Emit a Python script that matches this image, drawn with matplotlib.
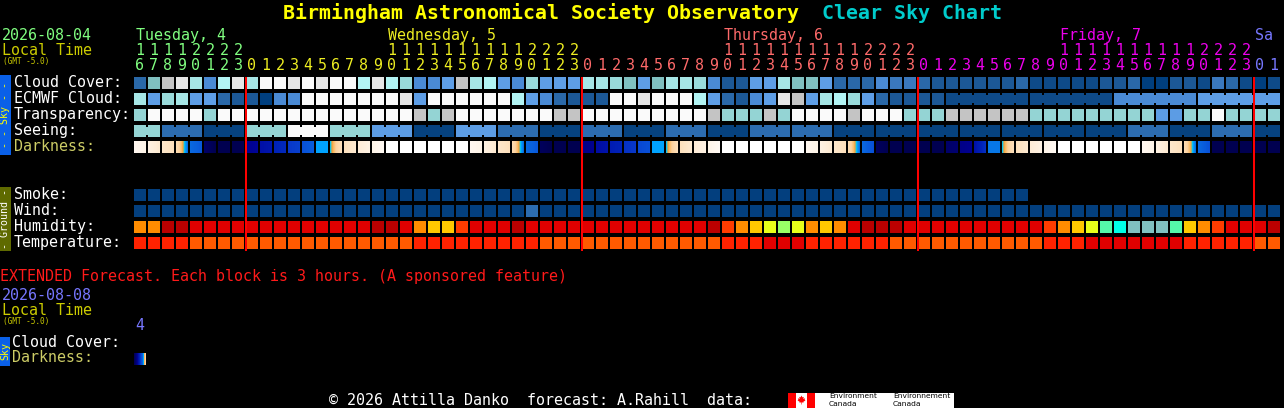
import matplotlib
matplotlib.use("Agg")
import matplotlib.pyplot as plt
from matplotlib.patches import Rectangle, Polygon
from matplotlib.colors import LinearSegmentedColormap
import numpy as np

plt.rcParams['font.family'] = ['DejaVu Sans Mono']

# ---------------- data ----------------
DAYS = ["Tuesday, 4", "Wednesday, 5", "Thursday, 6", "Friday, 7", "Sa"]
DAY_HOURS = [
    [16, 17, 18, 19, 20, 21, 22, 23],
    [0, 1, 2, 3, 4, 5, 6, 7, 8, 9, 10, 11, 12, 13, 14, 15, 16, 17, 18, 19, 20, 21, 22, 23],
    [0, 1, 2, 3, 4, 5, 6, 7, 8, 9, 10, 11, 12, 13, 14, 15, 16, 17, 18, 19, 20, 21, 22, 23],
    [0, 1, 2, 3, 4, 5, 6, 7, 8, 9, 10, 11, 12, 13, 14, 15, 16, 17, 18, 19, 20, 21, 22, 23],
    [0, 1],
]
DAY_COLORS = ["#80ff80", "#eeee22", "#ff6a6a", "#ee00ee", "#7777ff"]

# cloud cover levels (index into CLOUD_COLORS, 0 = clear ... 13 = overcast)
CLOUD_COVER = [3, 7, 11, 12, 9, 5, 10, 12, 9, 13, 13, 12, 13, 12, 13, 13, 10, 12, 10, 8,
               5, 5, 6, 11, 9, 10, 6, 5, 8, 6, 6, 6, 9, 9, 8, 7, 6, 7, 9, 9,
               8, 5, 2, 2, 6, 6, 9, 7, 7, 6, 3, 3, 3, 5, 4, 4, 3, 2, 2, 2,
               2, 2, 2, 3, 1, 1, 1, 1, 1, 2, 2, 3, 0, 0, 2, 2, 1, 4, 3, 1,
               0, 1]
ECMWF_CLOUD = [9, 6, 8, 9, 6, 6, 3, 2, 2, 0, 5, 5, 13, 13, 13, 13, 13, 13, 13, 12,
               6, 13, 13, 13, 13, 13, 13, 10, 6, 5, 3, 2, 2, 2, 13, 13, 12, 13, 13, 13,
               10, 6, 3, 2, 5, 6, 12, 11, 6, 9, 10, 8, 6, 3, 2, 2, 2, 2, 1, 1,
               1, 1, 1, 1, 1, 1, 1, 1, 1, 1, 5, 5, 5, 5, 5, 5, 6, 6, 6, 6,
               6, 6]
ECMWF_BLOCKS = [(58, 64), (64, 70), (70, 76), (76, 82)]
CLOUD_COLORS = ['#003f7f', '#0e4a88', '#1c5896', '#2a68a8', '#3a78be', '#4a8ad4', '#5e9ee6',
                '#80c0c0', '#99dada', '#a6e6e6', '#b2f4f4', '#c4c4c4', '#e6e6e6', '#fafafa']

# transparency levels (0 transparent ... 5 too cloudy)
TRANSPARENCY = [3, 5, 5, 5, 5, 3, 5, 5, 5, 5, 5, 5, 5, 5, 5, 5, 5, 5, 5, 5,
                4, 3, 4, 5, 5, 5, 5, 5, 5, 5, 4, 4, 5, 5, 5, 5, 5, 5, 5, 5,
                5, 4, 3, 3, 3, 4, 3, 5, 5, 5, 5, 4, 5, 5, 5, 3, 3, 3, 4, 4,
                4, 4, 4, 4, 3, 3, 3, 3, 3, 3, 3, 3, 3, 2, 2, 3, 3, 5, 3, 3,
                3, 3]
TRANSP_COLORS = ['#003f7f', '#2c6cb0', '#5c9ce4', '#94d4d4', '#c4c4c4', '#fafafa']

# seeing (1 bad ... 5 excellent)
SEEING = [2, 2, 4, 4, 4, 5, 5, 5, 2, 2, 2, 1, 1, 1, 2, 2, 2, 3, 3, 3,
          5, 5, 5, 3, 3, 3, 4, 4, 4, 5, 5, 5, 4, 4, 4, 5, 5, 5, 4, 4,
          4, 5, 5, 5, 4, 4, 4, 4, 4, 4, 5, 5, 5, 5, 5, 5, 5, 5, 5, 5,
          5, 5, 5, 5, 5, 5, 5, 5, 5, 5, 5, 4, 4, 4, 5, 5, 5, 4, 4, 4,
          5, 5]
SEEING_COLORS = {1: '#fafafa', 2: '#94d4d4', 3: '#5c9ce4', 4: '#2c6cb0', 5: '#06427f'}

# darkness (0 = daylight ... 100 = darkest) at start and end of each hour
DARK_START = [8, 14, 24, 32, 52, 92, 100, 100, 82, 76, 70, 64, 58, 48, 47, 30, 20, 12, 0, 0,
              0, 0, 0, 0, 8, 14, 24, 32, 52, 96, 100, 100, 84, 77, 72, 66, 60, 48, 47, 30,
              20, 12, 0, 0, 0, 0, 0, 0, 8, 14, 24, 32, 52, 95, 100, 100, 100, 100, 92, 84,
              76, 51, 47, 30, 20, 12, 0, 0, 0, 0, 0, 0, 8, 14, 24, 32, 52, 100, 100, 100,
              100, 100]
DARK_END = [12, 22, 30, 52, 56, 100, 100, 100, 80, 74, 68, 62, 55, 48, 30, 22, 14, 6, 0, 0,
            0, 0, 0, 0, 12, 22, 30, 52, 56, 100, 100, 100, 82, 75, 70, 64, 58, 48, 30, 22,
            14, 6, 0, 0, 0, 0, 0, 0, 12, 22, 30, 52, 58, 100, 100, 100, 100, 100, 90, 82,
            66, 51, 30, 22, 14, 6, 0, 0, 0, 0, 0, 0, 12, 22, 30, 52, 58, 100, 100, 100,
            100, 100]
DARK_STOPS = [(0, '#ffffff'), (10, '#fff6ec'), (20, '#feecd6'), (30, '#fde0bc'), (38, '#fcd29e'),
              (42, '#f9b860'), (44, '#f0a040'), (45.5, '#40c8c0'), (46.5, '#00c0f8'),
              (48, '#00a0ff'), (52, '#0a6ae0'), (58, '#0850d8'), (64, '#0838c8'),
              (70, '#0022b8'), (76, '#0010a8'), (82, '#000090'), (90, '#000070'), (100, '#000050')]

SMOKE = [0, 0, 0, 0, 0, 0, 0, 0, 0, 0, 0, 0, 0, 0, 0, 0, 0, 0, 0, 0,
         0, 0, 0, 0, 0, 0, 0, 0, 0, 0, 0, 0, 0, 0, 0, 0, 0, 0, 0, 0,
         0, 0, 0, 0, 0, 0, 0, 0, 0, 0, 0, 0, 0, 0, 0, 0, 0, 0, 0, 0,
         0, 0, 0, 0]
SMOKE_COLORS = {0: '#033f7e'}
WIND = [0, 0, 0, 0, 0, 0, 0, 0, 0, 0, 0, 0, 0, 0, 0, 0, 0, 0, 0, 0,
        0, 0, 0, 0, 0, 0, 0, 0, 1, 0, 0, 0, 0, 0, 0, 0, 0, 0, 0, 0,
        0, 0, 0, 0, 0, 0, 0, 0, 0, 0, 0, 0, 0, 0, 0, 0, 0, 0, 0, 0,
        0, 0, 0, 0, 0, 0, 0, 0, 0, 0, 0, 0, 0, 0, 0, 0, 0, 0, 0, 0,
        0, 0]
WIND_COLORS = {0: '#033f7e', 1: '#2c6cb0'}
HUMIDITY = [85, 85, 100, 100, 95, 95, 95, 95, 95, 95, 95, 95, 95, 95, 95, 95, 95, 100, 100, 95,
            85, 80, 80, 90, 95, 95, 95, 100, 95, 95, 95, 95, 95, 95, 95, 95, 95, 95, 95, 95,
            95, 100, 90, 85, 80, 75, 70, 75, 85, 80, 85, 95, 100, 100, 100, 95, 95, 95, 95, 95,
            95, 95, 95, 95, 95, 90, 85, 80, 75, 65, 60, 55, 55, 55, 65, 80, 85, 90, 95, 95,
            95, 100]
HUMID_COLORS = {100: '#bb0000', 95: '#e00000', 90: '#ff3c00', 85: '#ff8c00', 80: '#ffc800',
                75: '#e8ff1a', 70: '#99ff66', 65: '#55f8aa', 60: '#00ffe6', 55: '#80c0c0'}
TEMPERATURE = [82, 82, 82, 82, 77, 77, 77, 77, 77, 77, 77, 77, 77, 77, 77, 77, 77, 77, 77, 77,
               82, 82, 82, 82, 82, 82, 82, 82, 82, 77, 77, 77, 77, 77, 77, 77, 77, 77, 77, 77,
               77, 77, 82, 82, 82, 88, 88, 88, 82, 82, 82, 82, 82, 82, 77, 77, 77, 77, 77, 77,
               77, 77, 77, 77, 77, 82, 82, 82, 88, 88, 88, 88, 88, 88, 88, 82, 82, 82, 82, 82,
               77, 77]
TEMP_COLORS = {77: '#ff5a00', 82: '#ff2200', 88: '#e00000'}

SKY_LABELS = ["Cloud Cover:", "ECMWF Cloud:", "Transparency:", "Seeing:", "Darkness:"]
GROUND_LABELS = ["Smoke:", "Wind:", "Humidity:", "Temperature:"]

EXT_DATE = "2026-08-08"
EXT_HOURS = [4]
EXT_DARK_START = [100]
EXT_DARK_END = [35]

# ---------------- layout ----------------
W, H = 1284, 408
X0, PITCH, CELL = 134, 14, 12
SKY_TOP, GROUND_TOP, ROW = 77, 189, 16
FS = 10.8
WHITE = '#ffffff'

fig = plt.figure(figsize=(W / 100, H / 100), dpi=100, facecolor='black')
ax = fig.add_axes([0, 0, 1, 1])
ax.set_facecolor('black')
ax.axis('off')

hours = [h for day in DAY_HOURS for h in day]
day_of_col = [d for d, day in enumerate(DAY_HOURS) for _ in day]
n = len(hours)
xs = X0 + PITCH * np.arange(n)


def cell_row(values, palette, top):
    vals = list(values)
    cols = [palette[v] for v in vals]
    ax.bar(xs[:len(vals)], CELL, bottom=top, width=CELL, align='edge', color=cols, lw=0)


def bridges(values, palette, top, groups):
    for (a, b) in groups:
        for i in range(a, b - 1):
            ax.bar(xs[i] + CELL, CELL - 4, bottom=top + 2, width=PITCH - CELL, align='edge',
                   color=palette[values[i]], lw=0)


# title
ax.text(283, 19, "Birmingham Astronomical Society Observatory", color='#ffff00',
        fontsize=14.35, fontweight='bold', va='baseline', ha='left')
ax.text(822, 19, "Clear Sky Chart", color='#00cccc', fontsize=14.35, fontweight='bold',
        va='baseline', ha='left')

# header
ax.text(2, 40, "2026-08-04", color='#80ff80', fontsize=FS, va='baseline')
ax.text(2, 55, "Local Time", color='#cccc00', fontsize=FS, va='baseline')
ax.text(3, 64, "(GMT -5.0)", color='#cccc00', fontsize=5.6, va='baseline')

for d, name in enumerate(DAYS):
    cols_d = [i for i in range(n) if day_of_col[i] == d]
    first = next((i for i in cols_d if hours[i] >= 10), cols_d[0])
    ax.text(xs[first] + 1.5, 40, name, color=DAY_COLORS[d], fontsize=FS, va='baseline')

for i, h in enumerate(hours):
    c = DAY_COLORS[day_of_col[i]]
    if h >= 10:
        ax.text(xs[i] + CELL / 2, 55, str(h // 10), color=c, fontsize=FS, va='baseline', ha='center')
    ax.text(xs[i] + CELL / 2, 70, str(h % 10), color=c, fontsize=FS, va='baseline', ha='center')

# sky rows
for k, lab in enumerate(SKY_LABELS):
    ax.text(14, SKY_TOP + ROW * k + 10, lab, color='#cccc66' if lab == "Darkness:" else WHITE,
            fontsize=FS, va='baseline')
cell_row(CLOUD_COVER, CLOUD_COLORS, SKY_TOP)
cell_row(ECMWF_CLOUD, CLOUD_COLORS, SKY_TOP + ROW)
bridges(ECMWF_CLOUD, CLOUD_COLORS, SKY_TOP + ROW, ECMWF_BLOCKS)
cell_row(TRANSPARENCY, TRANSP_COLORS, SKY_TOP + 2 * ROW)
cell_row(SEEING, SEEING_COLORS, SKY_TOP + 3 * ROW)
seeing_groups = []
start = 0
for i in range(1, n + 1):
    if i == n or hours[i] % 3 == 0:
        seeing_groups.append((start, i))
        start = i
bridges(SEEING, SEEING_COLORS, SKY_TOP + 3 * ROW, seeing_groups)

dark_cmap = LinearSegmentedColormap.from_list('dark', [(v / 100, c) for v, c in DARK_STOPS])


def dark_cell(x, top, a, b):
    grad = np.linspace(a, b, 48)[None, :]
    ax.imshow(grad, cmap=dark_cmap, vmin=0, vmax=100, extent=(x, x + CELL, top + CELL, top),
              aspect='auto', interpolation='nearest')


for i, (a, b) in enumerate(zip(DARK_START, DARK_END)):
    dark_cell(xs[i], SKY_TOP + 4 * ROW, a, b)

# ground rows
for k, lab in enumerate(GROUND_LABELS):
    ax.text(14, GROUND_TOP + ROW * k + 10, lab, color=WHITE, fontsize=FS, va='baseline')
cell_row(SMOKE, SMOKE_COLORS, GROUND_TOP)
cell_row(WIND, WIND_COLORS, GROUND_TOP + ROW)
cell_row(HUMIDITY, HUMID_COLORS, GROUND_TOP + 2 * ROW)
cell_row(TEMPERATURE, TEMP_COLORS, GROUND_TOP + 3 * ROW)

# midnight lines
for i, h in enumerate(hours):
    if h == 0 and i > 0:
        ax.plot([xs[i], xs[i]], [76.5, 250.5], color='#ff0000', lw=1.45, solid_capstyle='butt')

# side bars
ax.add_patch(Rectangle((0, 75), 11, 80, color='#0a60e8', lw=0))
ax.text(5.5, 115, "- - Sky - -", rotation=90, color='#ffff00', fontsize=7.2,
        ha='center', va='center')
ax.add_patch(Rectangle((0, 187), 11, 64, color='#5f6a00', lw=0))
ax.text(5.5, 219, "- Ground -", rotation=90, color=WHITE, fontsize=7.2,
        ha='center', va='center')

# extended forecast
ax.text(0, 281, "EXTENDED Forecast. Each block is 3 hours. (A sponsored feature)",
        color='#ff1a1a', fontsize=FS, va='baseline')
ax.text(2, 300, EXT_DATE, color='#7777ff', fontsize=FS, va='baseline')
ax.text(2, 315, "Local Time", color='#cccc00', fontsize=FS, va='baseline')
ax.text(3, 324, "(GMT -5.0)", color='#cccc00', fontsize=5.6, va='baseline')
for j, h in enumerate(EXT_HOURS):
    ax.text(xs[j] + CELL / 2, 330, str(h), color='#7777ff', fontsize=FS, va='baseline', ha='center')
ax.text(12, 347, "Cloud Cover:", color=WHITE, fontsize=FS, va='baseline')
ax.text(12, 362, "Darkness:", color='#cccc66', fontsize=FS, va='baseline')
for j, (a, b) in enumerate(zip(EXT_DARK_START, EXT_DARK_END)):
    dark_cell(xs[j], 353, a, b)
ax.add_patch(Rectangle((0, 337), 10, 29, color='#0a60e8', lw=0))
ax.text(5, 351.5, "Sky", rotation=90, color='#ffff00', fontsize=7.2, ha='center', va='center')

# footer
ax.text(329, 405, "\u00a9 2026 Attilla Danko  forecast: A.Rahill  data:", color=WHITE,
        fontsize=FS, va='baseline')
ax.add_patch(Rectangle((788, 392.5), 166, 16, color='white', lw=0))
ax.add_patch(Rectangle((788, 392.5), 8, 16, color='#ff0000', lw=0))
ax.add_patch(Rectangle((807, 392.5), 8, 16, color='#ff0000', lw=0))
leaf = [(0, -5), (1, -3), (2.5, -3.5), (2, -1), (4, -2), (3.5, 0), (4.5, 0.5), (2, 2), (2.3, 3),
        (0.3, 2.6), (0.3, 5), (-0.3, 5), (-0.3, 2.6), (-2.3, 3), (-2, 2), (-4.5, 0.5), (-3.5, 0),
        (-4, -2), (-2, -1), (-2.5, -3.5), (-1, -3)]
ax.add_patch(Polygon([(801.5 + 0.9 * px, 400 + 0.9 * py) for px, py in leaf], closed=True,
                     color='#ff0000', lw=0))
for xx, word in [(829, "Environment"), (893, "Environnement")]:
    ax.text(xx, 398, word, color='black', fontsize=5.4, family='DejaVu Sans', va='baseline')
    ax.text(xx, 406.5, "Canada", color='black', fontsize=5.4, family='DejaVu Sans', va='baseline')

ax.set_xlim(0, W)
ax.set_ylim(H, 0)
fig.savefig("out.png", dpi=100, facecolor='black')
